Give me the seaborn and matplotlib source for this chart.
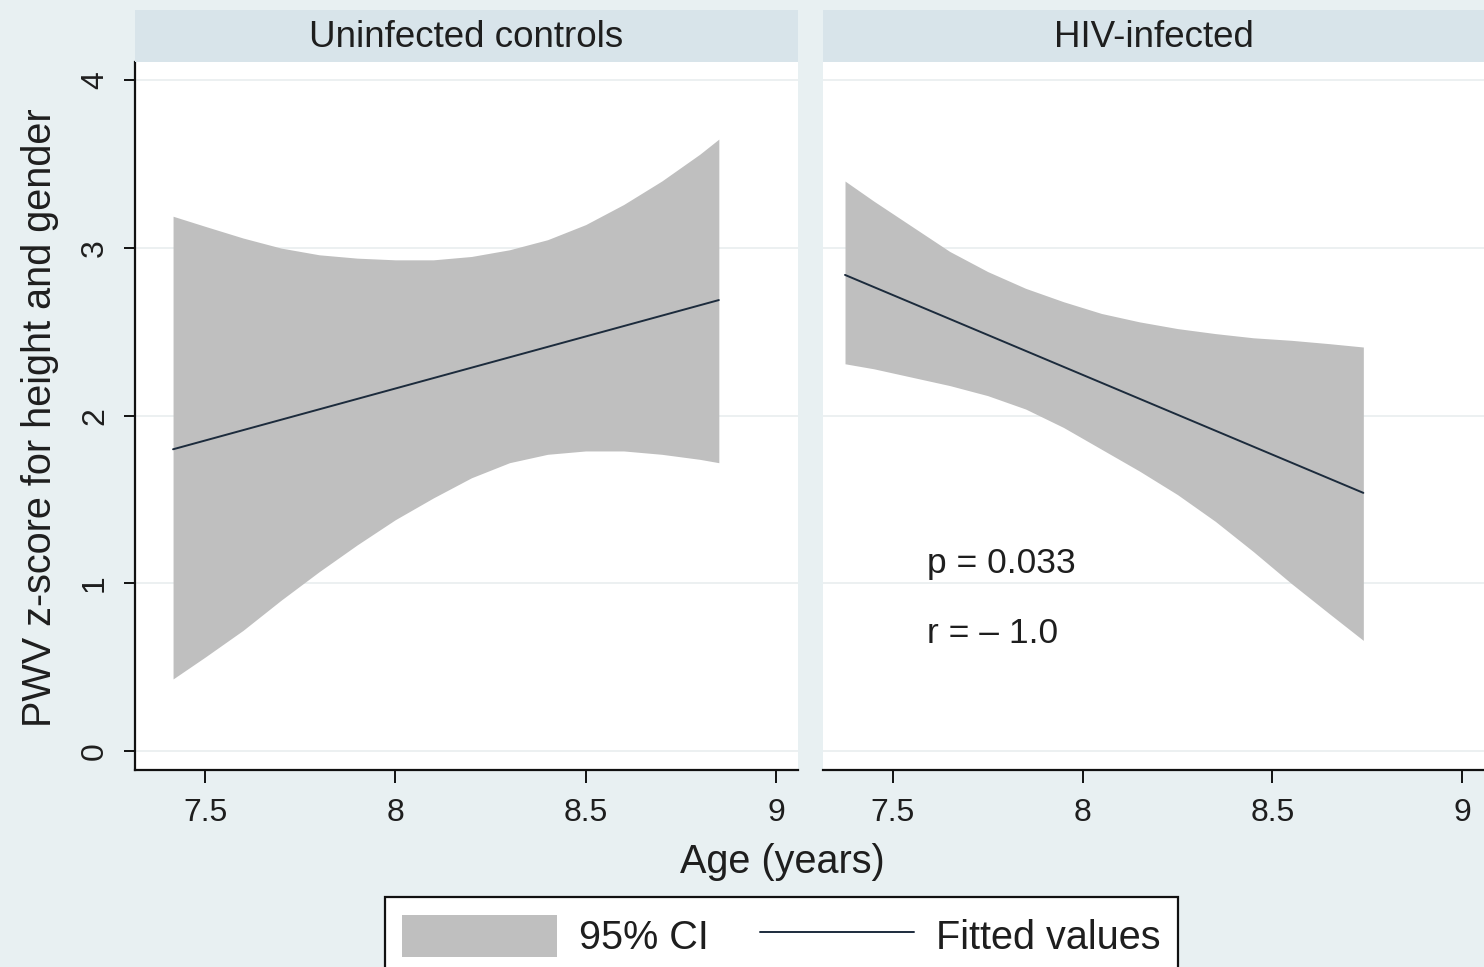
import numpy as np
import pandas as pd
import matplotlib
matplotlib.use("Agg")
import matplotlib.pyplot as plt
from matplotlib.patches import Patch
from matplotlib.lines import Line2D
import seaborn as sns

# ---------------- data ----------------
panels = ["Uninfected controls", "HIV-infected"]

# Uninfected controls: 95% CI band
ctrl_age = [7.416, 7.5, 7.6, 7.7, 7.8, 7.9, 8.0, 8.1, 8.2, 8.3, 8.4, 8.5, 8.6, 8.7, 8.8, 8.85]
ctrl_upper = [3.19, 3.13, 3.06, 3.00, 2.96, 2.94, 2.93, 2.93, 2.95, 2.99, 3.05, 3.14, 3.26, 3.40, 3.56, 3.65]
ctrl_lower = [0.43, 0.56, 0.72, 0.90, 1.07, 1.23, 1.38, 1.51, 1.63, 1.72, 1.77, 1.79, 1.79, 1.77, 1.74, 1.72]
# fitted line end points
ctrl_fit_age = [7.416, 8.85]
ctrl_fit = [1.80, 2.69]

# HIV-infected: 95% CI band
hiv_age = [7.374, 7.45, 7.55, 7.65, 7.75, 7.85, 7.95, 8.05, 8.15, 8.25, 8.35, 8.45, 8.55, 8.65, 8.74]
hiv_upper = [3.40, 3.28, 3.13, 2.98, 2.86, 2.76, 2.68, 2.61, 2.56, 2.52, 2.49, 2.465, 2.45, 2.43, 2.41]
hiv_lower = [2.31, 2.28, 2.23, 2.18, 2.12, 2.04, 1.93, 1.80, 1.67, 1.53, 1.37, 1.19, 1.00, 0.82, 0.66]
hiv_fit_age = [7.374, 8.74]
hiv_fit = [2.84, 1.54]

annot_lines = ["p = 0.033", "r = \u2013 1.0"]
annot_x = 7.59
annot_y = [1.12, 0.70]

x_ticks = [7.5, 8, 8.5, 9]
x_tick_labels = ["7.5", "8", "8.5", "9"]
y_ticks = [0, 1, 2, 3, 4]
y_tick_labels = ["0", "1", "2", "3", "4"]

x_label = "Age (years)"
y_label = "PWV z-score for height and gender"
legend_labels = ["95% CI", "Fitted values"]

# ---------------- style ----------------
sns.set_theme(style="white")
FAM = ["Liberation Sans Narrow", "Liberation Sans", "DejaVu Sans"]
plt.rcParams["font.family"] = FAM

BG = "#e8f0f2"
HEADER = "#d8e4ea"
BAND = "#bfbfbf"
LINE = "#1c2b3c"
TXT = "#1e1e1e"
GRID = "#e9edef"

fig = plt.figure(figsize=(14.84, 9.67), dpi=100, facecolor=BG)

W, H = 1484.0, 967.0
bottom = (H - 770) / H
height = (770 - 62) / H
ax_specs = [(135 / W, 663 / W), (823 / W, 661 / W)]

band_data = [
    pd.DataFrame({"age": ctrl_age, "upper": ctrl_upper, "lower": ctrl_lower}),
    pd.DataFrame({"age": hiv_age, "upper": hiv_upper, "lower": hiv_lower}),
]
fit_data = [
    pd.DataFrame({"age": ctrl_fit_age, "fit": ctrl_fit}),
    pd.DataFrame({"age": hiv_fit_age, "fit": hiv_fit}),
]

axes = []
for i, (left, width) in enumerate(ax_specs):
    ax = fig.add_axes([left, bottom, width, height])
    ax.set_facecolor("white")
    axes.append(ax)

    for yv in y_ticks:
        ax.axhline(yv, color=GRID, lw=1.2, zorder=0)

    bd = band_data[i]
    ax.fill_between(bd["age"], bd["lower"], bd["upper"], color=BAND, lw=0, zorder=1)
    sns.lineplot(data=fit_data[i], x="age", y="fit", ax=ax, color=LINE,
                 lw=1.4, estimator=None, zorder=2)

    ax.set_xlim(7.316, 9.058)
    ax.set_ylim(-0.113, 4.11)
    ax.set_xticks(x_ticks)
    ax.set_xticklabels(x_tick_labels)
    ax.set_xlabel("")
    ax.set_ylabel("")

    for s in ["top", "right"]:
        ax.spines[s].set_visible(False)
    ax.spines["bottom"].set_color("#111111")
    ax.spines["bottom"].set_linewidth(1.6)
    ax.tick_params(axis="x", direction="out", length=9, width=1.4, color="#111111",
                   labelsize=23, labelcolor=TXT, pad=11, bottom=True)

    if i == 0:
        ax.spines["left"].set_color("#111111")
        ax.spines["left"].set_linewidth(1.6)
        ax.set_yticks(y_ticks)
        ax.set_yticklabels(y_tick_labels, rotation=90, va="center")
        ax.tick_params(axis="y", direction="out", length=8, width=1.4, color="#111111",
                       labelsize=23, labelcolor=TXT, pad=10, left=True)
    else:
        ax.spines["left"].set_visible(False)
        ax.set_yticks(y_ticks)
        ax.set_yticklabels([])
        ax.tick_params(axis="y", length=0, left=False)

    # panel header strip
    hax = fig.add_axes([left, (H - 62) / H, width, 52 / H])
    hax.set_facecolor(HEADER)
    hax.set_xticks([])
    hax.set_yticks([])
    for s in hax.spines.values():
        s.set_visible(False)
    hax.text(0.5, 0.47, panels[i], ha="center", va="center", fontsize=26.5,
             color=TXT, family=FAM, transform=hax.transAxes)

# annotations in HIV panel
for txt, yy in zip(annot_lines, annot_y):
    axes[1].text(annot_x, yy, txt, ha="left", va="center", fontsize=25.5,
                 color=TXT, family=FAM)

# axis titles
fig.text(782 / W, 1 - 862 / H, x_label, ha="center", va="center", fontsize=28.5,
         color=TXT, family=FAM)
fig.text(40 / W, 1 - 418 / H, y_label, ha="center", va="center", rotation=90,
         fontsize=28.5, color=TXT, family=FAM)

# legend
handles = [Patch(facecolor=BAND, edgecolor="none"),
           Line2D([0], [0], color=LINE, lw=1.4)]
leg = fig.legend(handles, legend_labels, loc="upper center",
                 bbox_to_anchor=(781.5 / W, 1 - 897 / H), ncol=2, fontsize=28.5,
                 frameon=True, fancybox=False, framealpha=1.0,
                 handlelength=3.9, handleheight=1.25,
                 handletextpad=0.55, columnspacing=1.3, borderpad=0.45,
                 borderaxespad=0)
leg.get_frame().set_edgecolor("#111111")
leg.get_frame().set_linewidth(1.6)
leg.get_frame().set_facecolor("white")
for t in leg.get_texts():
    t.set_color(TXT)

fig.savefig("out.png", dpi=100, facecolor=BG)
